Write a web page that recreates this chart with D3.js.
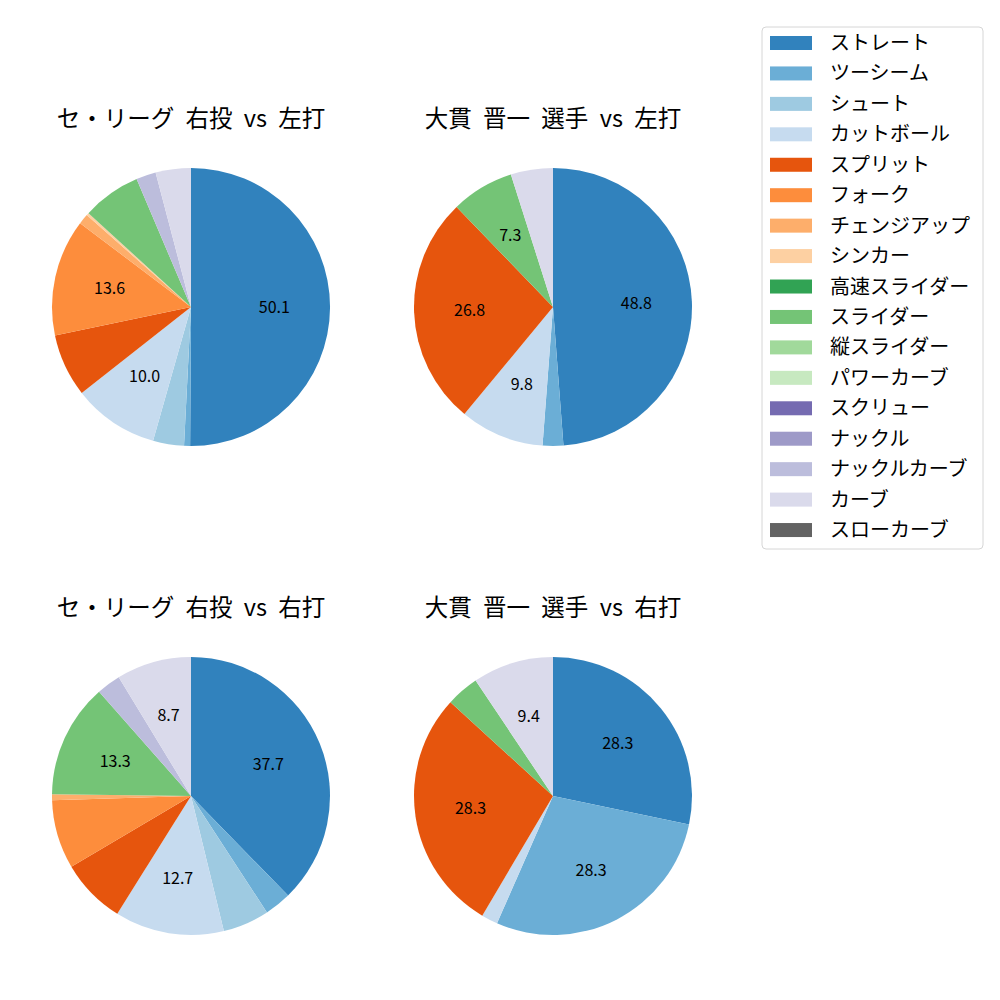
<!DOCTYPE html>
<html>
<head>
<meta charset="utf-8">
<script src="https://cdn.jsdelivr.net/npm/d3@7"></script>
<style>
  body { margin: 0; background: #fff; }
  text { font-family: "Noto Sans CJK JP", "DejaVu Sans", sans-serif; }
</style>
</head>
<body>
<svg id="chart" width="1000" height="1000"></svg>
<script>
// pitch types (legend order) and colours
var pitchTypes = ["ストレート", "ツーシーム", "シュート", "カットボール", "スプリット", "フォーク",
  "チェンジアップ", "シンカー", "高速スライダー", "スライダー", "縦スライダー", "パワーカーブ",
  "スクリュー", "ナックル", "ナックルカーブ", "カーブ", "スローカーブ"];
var pitchColors = ["#3182bd", "#6baed6", "#9ecae1", "#c6dbef", "#e6550d", "#fd8d3c",
  "#fdae6b", "#fdd0a2", "#31a354", "#74c476", "#a1d99b", "#c7e9c0",
  "#756bb1", "#9e9ac8", "#bcbddc", "#dadaeb", "#636363"];

var titles = ["セ・リーグ 右投 vs 左打", "大貫 晋一 選手 vs 左打",
  "セ・リーグ 右投 vs 右打", "大貫 晋一 選手 vs 右打"];

// percentages per pitch type (same order as pitchTypes)
var leagueVsLeft  = [50.1, 0.7, 3.6, 10.0, 7.3, 13.6, 1.2, 0.3, 0, 6.8, 0, 0, 0, 0, 2.3, 4.1, 0];
var ohnukiVsLeft  = [48.8, 2.4, 0, 9.8, 26.8, 0, 0, 0, 0, 7.3, 0, 0, 0, 0, 0, 4.9, 0];
var leagueVsRight = [37.7, 3.1, 5.4, 12.7, 7.6, 8.0, 0.7, 0, 0, 13.3, 0, 0, 0, 0, 2.8, 8.7, 0];
var ohnukiVsRight = [28.3, 28.3, 0, 1.9, 28.3, 0, 0, 0, 0, 3.8, 0, 0, 0, 0, 0, 9.4, 0];

// smallest slice that gets a value label, per pie
var labelMin = [8.5, 7, 8.5, 9];

var pies = [leagueVsLeft, ohnukiVsLeft, leagueVsRight, ohnukiVsRight];
var centers = [[191, 307], [553, 307], [191, 796], [553, 796]];
var radius = 139;

var svg = d3.select("#chart");

var color = d3.scaleOrdinal().domain(pitchTypes).range(pitchColors);

var pie = d3.pie()
    .sort(null)
    .value(function(d) { return d.value; });

var arc = d3.arc().innerRadius(0).outerRadius(radius);
var labelArc = d3.arc().innerRadius(radius * 0.6).outerRadius(radius * 0.6);

pies.forEach(function(values, i) {
  var data = pitchTypes.map(function(name, j) { return {name: name, value: values[j]}; })
    .filter(function(d) { return d.value > 0; });

  var g = svg.append("g")
      .attr("transform", "translate(" + centers[i][0] + "," + centers[i][1] + ")");

  var slices = g.selectAll(".slice")
      .data(pie(data))
      .enter().append("g")
      .attr("class", "slice");

  slices.append("path")
      .attr("d", arc)
      .style("fill", function(d) { return color(d.data.name); });

  slices.filter(function(d) { return d.data.value >= labelMin[i]; })
      .append("text")
      .attr("transform", function(d) { return "translate(" + labelArc.centroid(d) + ")"; })
      .attr("text-anchor", "middle")
      .attr("dy", ".35em")
      .style("font-size", "16px")
      .text(function(d) { return d.data.value.toFixed(1); });

  // title
  svg.append("text")
      .attr("x", centers[i][0])
      .attr("y", centers[i][1] - 180)
      .attr("text-anchor", "middle")
      .style("font-size", "23.5px")
      .style("word-spacing", "6px")
      .text(titles[i]);
});

// legend
var legend = svg.append("g").attr("transform", "translate(762,27)");

legend.append("rect")
    .attr("width", 221)
    .attr("height", 522)
    .attr("rx", 4)
    .style("fill", "#fff")
    .style("stroke", "#d6d6d6");

var items = legend.selectAll(".legend")
    .data(pitchTypes)
    .enter().append("g")
    .attr("class", "legend")
    .attr("transform", function(d, i) { return "translate(0," + (16 + i * 30.44) + ")"; });

items.append("rect")
    .attr("x", 8)
    .attr("y", -7)
    .attr("width", 42)
    .attr("height", 14)
    .style("fill", color);

items.append("text")
    .attr("x", 68)
    .attr("dy", ".35em")
    .style("font-size", "20px")
    .text(function(d) { return d; });
</script>
</body>
</html>
